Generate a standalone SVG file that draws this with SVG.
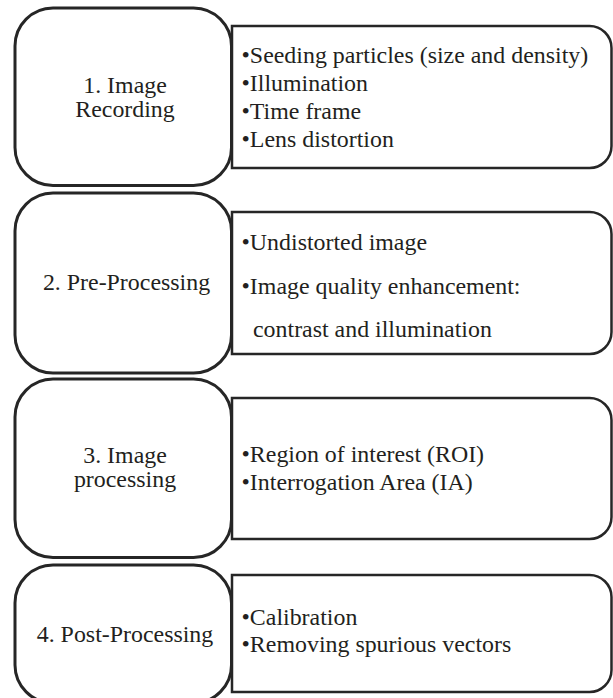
<svg xmlns="http://www.w3.org/2000/svg" width="613" height="698" viewBox="0 0 613 698">
<style>
.stage{fill:#fff;stroke:#262626;stroke-width:3}
.detail{fill:#fff;stroke:#262626;stroke-width:2.5}
text{font-family:"Liberation Serif","Times New Roman",serif;font-size:23.9px;fill:#231f20}
.lbl{text-anchor:middle}
</style>
<rect width="613" height="698" fill="#fff"/>
<g id="connectors"/>
<g id="row1">
<g id="details1">
<path class="detail" d="M232,26 H589 A22,22 0 0 1 611.5,48 V146 A22,22 0 0 1 589,168 H232 Z"/>
<text x="241.5" y="62.5">•Seeding particles (size and density)</text>
<text x="241.5" y="90.5">•Illumination</text>
<text x="241.5" y="118.5">•Time frame</text>
<text x="241.5" y="146.5">•Lens distortion</text>
</g>
<g id="stage1">
<rect class="stage" x="15" y="8" width="216.5" height="177.5" rx="38" ry="38"/>
<text class="lbl" x="125" y="93">1. Image</text>
<text class="lbl" x="125" y="117">Recording</text>
</g>
</g>
<g id="row2">
<g id="details2">
<path class="detail" d="M232,212 H589 A22,22 0 0 1 611.5,234 V332 A22,22 0 0 1 589,354 H232 Z"/>
<text x="241.5" y="250">•Undistorted image</text>
<text x="241.5" y="294">•Image quality enhancement:</text>
<text x="253" y="337">contrast and illumination</text>
</g>
<g id="stage2">
<rect class="stage" x="15" y="193" width="216.5" height="180" rx="38" ry="38"/>
<text class="lbl" x="126.5" y="290">2. Pre-Processing</text>
</g>
</g>
<g id="row3">
<g id="details3">
<path class="detail" d="M232,398 H589 A22,22 0 0 1 611.5,420 V517 A22,22 0 0 1 589,539 H232 Z"/>
<text x="241.5" y="462">•Region of interest (ROI)</text>
<text x="241.5" y="490">•Interrogation Area (IA)</text>
</g>
<g id="stage3">
<rect class="stage" x="15" y="379" width="216.5" height="178.5" rx="38" ry="38"/>
<text class="lbl" x="125" y="463">3. Image</text>
<text class="lbl" x="125" y="487">processing</text>
</g>
</g>
<g id="row4">
<g id="details4">
<path class="detail" d="M232,575 H589 A22,22 0 0 1 611.5,597 V670 A22,22 0 0 1 589,692 H232 Z"/>
<text x="241.5" y="625">•Calibration</text>
<text x="241.5" y="652">•Removing spurious vectors</text>
</g>
<g id="stage4">
<rect class="stage" x="15" y="565" width="216.5" height="138" rx="38" ry="38"/>
<text class="lbl" x="125" y="642">4. Post-Processing</text>
</g>
</g>
</svg>
